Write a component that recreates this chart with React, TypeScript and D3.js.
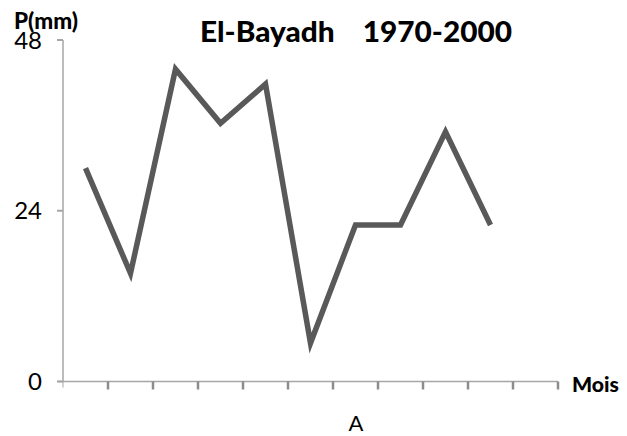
import React from "react";
import * as d3 from "d3";

const categories = ["1", "2", "3", "4", "5", "6", "7", "8", "9", "10", "11"];
const values: (number | null)[] = [30.0, 15.2, 43.9, 36.3, 41.8, 5.4, 22.0, 22.0, 35.1, 22.0, null];
const yTicks = [0, 24, 48];
const title = "El-Bayadh    1970-2000";
const yTitle = "P(mm)";
const xTitle = "Mois";
const xLabel = "A";

export default function App() {
  const W = 627, H = 436;
  const left = 63, right = 558, top = 40, bottom = 381.5;
  const x = d3.scaleBand<string>().domain(categories).range([left, right]).padding(0);
  const y = d3.scaleLinear().domain([0, 48]).range([bottom, top]);
  const line = d3
    .line<number | null>()
    .defined((d) => d !== null)
    .x((_, i) => (x(categories[i]) as number) + x.bandwidth() / 2)
    .y((d) => y(d as number));
  const boundaries = categories.map((c) => x(c) as number).concat([right]);
  const font = "Lato, sans-serif";
  return (
    <svg width={W} height={H} style={{ position: "absolute", left: 0, top: 0, background: "#fff" }} fontFamily={font}>
      <text x={200} y={42} fontSize={29} fontWeight="900" fill="#000" style={{ whiteSpace: "pre" }} textLength={312} lengthAdjust="spacingAndGlyphs">
        {title}
      </text>
      {/* y axis */}
      <line x1={left} x2={left} y1={top} y2={bottom} stroke="#a6a6a6" strokeWidth={1.5} />
      {yTicks.map((t) => (
        <g key={t}>
          <line x1={left - 6} x2={left} y1={y(t)} y2={y(t)} stroke="#a6a6a6" strokeWidth={2} />
          <text x={42} y={y(t)} dy="0.36em" textAnchor="end" fontSize={24} fill="#000">
            {t}
          </text>
        </g>
      ))}
      {/* x axis */}
      <line x1={left - 6} x2={right} y1={bottom} y2={bottom} stroke="#a6a6a6" strokeWidth={1.5} />
      {boundaries.slice(1).map((b, i) => (
        <line key={i} x1={b} x2={b} y1={bottom} y2={bottom + 8} stroke="#8c8c8c" strokeWidth={2.5} />
      ))}
      <line x1={left} x2={left} y1={bottom} y2={bottom + 6} stroke="#a6a6a6" strokeWidth={1} />
      <path d={line(values) || ""} fill="none" stroke="#595959" strokeWidth={5.5} strokeLinejoin="miter" strokeLinecap="butt" />
      <text x={14} y={29} fontSize={22} fontWeight="900" fill="#000" textLength={64} lengthAdjust="spacingAndGlyphs">
        {yTitle}
      </text>
      <text x={572} y={392} fontSize={20} fontWeight="900" fill="#000" textLength={47} lengthAdjust="spacingAndGlyphs">
        {xTitle}
      </text>
      <text x={356} y={431} textAnchor="middle" fontSize={22} fill="#000">
        {xLabel}
      </text>
    </svg>
  );
}
